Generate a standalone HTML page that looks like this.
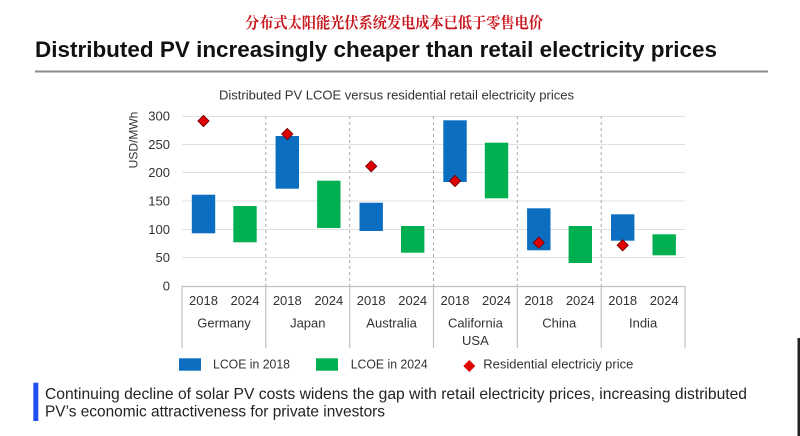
<!DOCTYPE html>
<html>
<head>
<meta charset="utf-8">
<style>
html,body{margin:0;padding:0;background:#fff;}
svg{display:block;}
text{font-family:"Liberation Sans","Noto Sans CJK SC",sans-serif;}
</style>
</head>
<body>
<svg width="800" height="436" viewBox="0 0 800 436" xmlns="http://www.w3.org/2000/svg">
<rect x="0" y="0" width="800" height="436" fill="#fff"/>

<!-- Chinese title -->
<text x="245" y="28" font-size="15.5" font-weight="700" fill="#c8161d" textLength="298" lengthAdjust="spacingAndGlyphs" style="font-family:'Noto Serif CJK SC','Noto Sans CJK SC',serif;">分布式太阳能光伏系统发电成本已低于零售电价</text>

<!-- Main title -->
<text x="35" y="57" font-size="22" font-weight="700" fill="#111" textLength="682" lengthAdjust="spacingAndGlyphs">Distributed PV increasingly cheaper than retail electricity prices</text>
<rect x="35" y="70.5" width="733" height="2" fill="#8a8a8a"/>

<!-- Chart subtitle -->
<text x="219" y="99.5" font-size="12.5" fill="#333" textLength="355" lengthAdjust="spacingAndGlyphs">Distributed PV LCOE versus residential retail electricity prices</text>

<!-- gridlines -->
<g stroke="#e0e0e0" stroke-width="1">
<line x1="182" y1="116.5" x2="685" y2="116.5"/>
<line x1="182" y1="144.5" x2="685" y2="144.5"/>
<line x1="182" y1="172.5" x2="685" y2="172.5"/>
<line x1="182" y1="201" x2="685" y2="201"/>
<line x1="182" y1="229.5" x2="685" y2="229.5"/>
<line x1="182" y1="257.5" x2="685" y2="257.5"/>
</g>

<!-- dashed dividers -->
<g stroke="#a8a8b8" stroke-width="1" stroke-dasharray="3,3">
<line x1="265.8" y1="116" x2="265.8" y2="286"/>
<line x1="349.7" y1="116" x2="349.7" y2="286"/>
<line x1="433.5" y1="116" x2="433.5" y2="286"/>
<line x1="517.3" y1="116" x2="517.3" y2="286"/>
<line x1="601.2" y1="116" x2="601.2" y2="286"/>
</g>

<!-- axis and category box -->
<g stroke="#c0c0c0" stroke-width="1.2">
<line x1="182" y1="286.5" x2="685" y2="286.5"/>
<line x1="182" y1="286" x2="182" y2="348"/>
<line x1="265.8" y1="286" x2="265.8" y2="348"/>
<line x1="349.7" y1="286" x2="349.7" y2="348"/>
<line x1="433.5" y1="286" x2="433.5" y2="348"/>
<line x1="517.3" y1="286" x2="517.3" y2="348"/>
<line x1="601.2" y1="286" x2="601.2" y2="348"/>
<line x1="685" y1="286" x2="685" y2="348"/>
</g>

<!-- y tick labels -->
<g font-size="13" fill="#333" text-anchor="end">
<text x="170" y="120.5">300</text>
<text x="170" y="148.8">250</text>
<text x="170" y="177.2">200</text>
<text x="170" y="205.5">150</text>
<text x="170" y="233.8">100</text>
<text x="170" y="262">50</text>
<text x="170" y="290.5">0</text>
</g>
<text transform="translate(137.5,140) rotate(-90)" font-size="12" fill="#333" text-anchor="middle">USD/MWh</text>

<!-- bars 2018 -->
<g fill="#0b6ec0">
<rect x="191.8" y="194.7" width="23.4" height="38.6"/>
<rect x="275.6" y="136" width="23.4" height="52.7"/>
<rect x="359.5" y="202.7" width="23.4" height="28.3"/>
<rect x="443.3" y="120.3" width="23.4" height="61.7"/>
<rect x="527.1" y="208.3" width="23.4" height="42"/>
<rect x="611" y="214.3" width="23.4" height="26.4"/>
</g>
<!-- bars 2024 -->
<g fill="#00b050">
<rect x="233.3" y="206" width="23.4" height="36.3"/>
<rect x="317.1" y="180.7" width="23.4" height="47.3"/>
<rect x="401" y="226" width="23.4" height="26.7"/>
<rect x="484.8" y="142.7" width="23.4" height="55.6"/>
<rect x="568.6" y="226" width="23.4" height="37"/>
<rect x="652.5" y="234.3" width="23.4" height="21"/>
</g>

<!-- diamonds -->
<g fill="#e00000" stroke="#7a0000" stroke-width="1">
<polygon points="203.5,115.5 209,121 203.5,126.5 198,121"/>
<polygon points="287.3,128.5 292.8,134 287.3,139.5 281.8,134"/>
<polygon points="371.2,160.8 376.7,166.3 371.2,171.8 365.7,166.3"/>
<polygon points="455,175.5 460.5,181 455,186.5 449.5,181"/>
<polygon points="538.8,237.2 544.3,242.7 538.8,248.2 533.3,242.7"/>
<polygon points="622.7,239.8 628.2,245.3 622.7,250.8 617.2,245.3"/>
</g>

<!-- year labels -->
<g font-size="13" fill="#333" text-anchor="middle">
<text x="203.5" y="305">2018</text><text x="245" y="305">2024</text>
<text x="287.3" y="305">2018</text><text x="328.8" y="305">2024</text>
<text x="371.2" y="305">2018</text><text x="412.7" y="305">2024</text>
<text x="455" y="305">2018</text><text x="496.5" y="305">2024</text>
<text x="538.8" y="305">2018</text><text x="580.3" y="305">2024</text>
<text x="622.7" y="305">2018</text><text x="664.2" y="305">2024</text>
<text x="224" y="327.5">Germany</text>
<text x="307.8" y="327.5">Japan</text>
<text x="391.6" y="327.5">Australia</text>
<text x="475.4" y="327.5">California</text>
<text x="475.4" y="345">USA</text>
<text x="559.2" y="327.5">China</text>
<text x="643.1" y="327.5">India</text>
</g>

<!-- legend -->
<rect x="179" y="358.3" width="22" height="12.4" fill="#0b6ec0"/>
<text x="213" y="368.5" font-size="13" fill="#333" textLength="77" lengthAdjust="spacingAndGlyphs">LCOE in 2018</text>
<rect x="316" y="358.3" width="22" height="12.4" fill="#00b050"/>
<text x="350.7" y="368.5" font-size="13" fill="#333" textLength="77" lengthAdjust="spacingAndGlyphs">LCOE in 2024</text>
<polygon points="469.3,360 475.3,366 469.3,372 463.3,366" fill="#e00000"/>
<text x="483.3" y="368.5" font-size="13" fill="#333" textLength="150" lengthAdjust="spacingAndGlyphs">Residential electriciy price</text>

<!-- bottom note -->
<rect x="33.3" y="382.7" width="5" height="38.3" fill="#1f4ff0"/>
<text x="45" y="399" font-size="16" fill="#222" textLength="702" lengthAdjust="spacingAndGlyphs">Continuing decline of solar PV costs widens the gap with retail electricity prices, increasing distributed</text>
<text x="45" y="416.5" font-size="16" fill="#222" textLength="340" lengthAdjust="spacingAndGlyphs">PV’s economic attractiveness for private investors</text>

<!-- right edge dark line -->
<rect x="797.5" y="338" width="2.5" height="98" fill="#222"/>
</svg>
</body>
</html>
